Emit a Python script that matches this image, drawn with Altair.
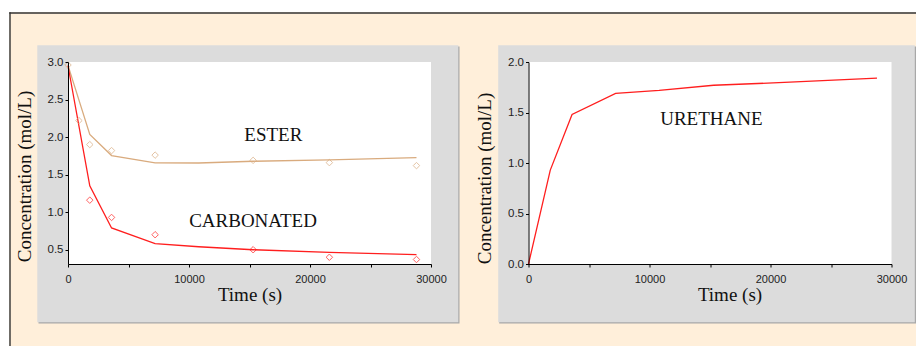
import altair as alt
import pandas as pd

# ---------------- data ----------------
time_fit = [0, 1800, 3600, 7200, 10800, 15300, 21600, 28800]
ester_fit = [2.955, 2.035, 1.754, 1.657, 1.655, 1.678, 1.696, 1.727]
carb_fit = [2.95, 1.35, 0.79, 0.58, 0.54, 0.50, 0.465, 0.435]
ureth_fit = [0.0, 0.93, 1.48, 1.69, 1.72, 1.77, 1.80, 1.84]

ester_t = [0, 900, 1800, 3600, 7200, 15300, 21600, 28800]
ester_obs = [2.96, 2.22, 1.90, 1.82, 1.76, 1.69, 1.66, 1.62]
carb_t = [1800, 3600, 7200, 15300, 21600, 28800]
carb_obs = [1.16, 0.93, 0.70, 0.50, 0.40, 0.37]

left_labels = ["ESTER", "CARBONATED"]
left_label_t = [16967, 15289]
left_label_v = [1.945, 0.797]
right_labels = ["URETHANE"]
right_label_t = [15112]
right_label_v = [1.381]

x_ticks = [0, 5000, 10000, 15000, 20000, 25000, 30000]
left_y_ticks = [0.5, 0.75, 1.0, 1.25, 1.5, 1.75, 2.0, 2.25, 2.5, 2.75, 3.0]
right_y_ticks = [0.0, 0.25, 0.5, 0.75, 1.0, 1.25, 1.5, 1.75, 2.0]

# ---------------- styling ----------------
W, H = 363, 202
SPACING = 97.5
BEIGE = "#FFEFDA"
PANEL = "#DCDCDC"
SHADOW = "#A8A8A8"
TAN = "#D9AB7E"
RED = "#FF1E1E"
SERIF = "Liberation Serif"
SANS = "Liberation Sans"

one = pd.DataFrame({"k": [0]})


def box(x, x2, y, y2, **kw):
    return alt.Chart(one).mark_rect(**kw).encode(
        x=alt.value(x), x2=alt.value(x2), y=alt.value(y), y2=alt.value(y2)
    )


def x_axis(title_x=None):
    kw = dict(
        title="Time (s)",
        values=x_ticks,
        format="d",
        labelExpr="datum.value % 10000 == 0 ? datum.label : ''",
        grid=False,
        domainColor="#000",
        tickColor="#000",
        tickSize=3,
        labelPadding=6,
        labelFont=SANS,
        labelFontSize=11,
        labelColor="#222",
        labelFlush=False,
        labelOverlap=False,
        titleFont=SERIF,
        titleFontSize=19,
        titleFontWeight="normal",
        titleColor="#111",
        titlePadding=1,
        zindex=1,
    )
    if title_x is not None:
        kw["titleX"] = title_x
    return alt.Axis(**kw)


def y_axis(values, title_y):
    return alt.Axis(
        title="Concentration (mol/L)",
        values=values,
        format=".1f",
        labelExpr="datum.value % 0.5 == 0 ? datum.label : ''",
        grid=False,
        domainColor="#000",
        tickColor="#000",
        tickSize=3,
        labelPadding=2,
        labelFont=SANS,
        labelFontSize=11.5,
        labelColor="#222",
        labelFlush=False,
        labelOverlap=False,
        titleFont=SERIF,
        titleFontSize=19,
        titleFontWeight="normal",
        titleColor="#111",
        titlePadding=13,
        titleY=title_y,
        zindex=1,
    )


x_scale = alt.Scale(domain=[0, 30000], nice=False, zero=False)
left_y_scale = alt.Scale(domain=[0.31, 3.0], nice=False, zero=False)
right_y_scale = alt.Scale(domain=[0.0, 2.0], nice=False, zero=False)

fit_df = pd.DataFrame({"t": time_fit, "ester": ester_fit, "carb": carb_fit, "ureth": ureth_fit})
ester_df = pd.DataFrame({"t": ester_t, "v": ester_obs})
carb_df = pd.DataFrame({"t": carb_t, "v": carb_obs})
left_lab_df = pd.DataFrame({"t": left_label_t, "v": left_label_v, "label": left_labels})
right_lab_df = pd.DataFrame({"t": right_label_t, "v": right_label_v, "label": right_labels})

# outer beige frame (dark line on the left and top only)
RIGHT_END = 848.0
BOTTOM_END = 284.0
frame = [
    box(-58.7, RIGHT_END, -49.7, BOTTOM_END, color=BEIGE),
    box(-58.7, -57.3, -49.7, BOTTOM_END, color="#333333"),
    box(-58.7, RIGHT_END, -49.7, -48.3, color="#333333"),
]

# ---------------- left panel ----------------
left_bg = [
    box(-29.5, 391.5, -15.5, 261.5, color=SHADOW),
    box(-30.7, 390.3, -16.7, 260.3, color=PANEL),
    box(0, W, 0, H, color="white"),
]

ester_line = alt.Chart(fit_df).mark_line(color=TAN, strokeWidth=1.3).encode(
    x=alt.X("t:Q", scale=x_scale, axis=x_axis()),
    y=alt.Y("ester:Q", scale=left_y_scale, axis=y_axis(left_y_ticks, 114)),
)
carb_line = alt.Chart(fit_df).mark_line(color=RED, strokeWidth=1.3).encode(
    x="t:Q", y="carb:Q"
)
ester_pts = alt.Chart(ester_df).mark_point(
    shape="diamond", filled=False, color=TAN, size=42, strokeWidth=1
).encode(x="t:Q", y="v:Q")
carb_pts = alt.Chart(carb_df).mark_point(
    shape="diamond", filled=False, color=RED, size=42, strokeWidth=1
).encode(x="t:Q", y="v:Q")
left_text = alt.Chart(left_lab_df).mark_text(
    font=SERIF, fontSize=19, color="#111", align="center", baseline="alphabetic"
).encode(x="t:Q", y="v:Q", text="label:N")

left = alt.layer(
    *frame, *left_bg, ester_line, carb_line, ester_pts, carb_pts, left_text
).properties(width=W, height=H)

# ---------------- right panel ----------------
r_end = RIGHT_END - (W + SPACING)
right_bg = [
    box(-29.3, r_end, -15.5, 261.5, color=SHADOW),
    box(-30.3, r_end - 1.2, -16.7, 260.3, color=PANEL),
    box(0, W, 0, H, color="white"),
]
ureth_line = alt.Chart(fit_df).mark_line(color=RED, strokeWidth=1.3).encode(
    x=alt.X("t:Q", scale=x_scale, axis=x_axis(title_x=201)),
    y=alt.Y("ureth:Q", scale=right_y_scale, axis=y_axis(right_y_ticks, 116)),
)
right_text = alt.Chart(right_lab_df).mark_text(
    font=SERIF, fontSize=19, color="#111", align="center", baseline="alphabetic"
).encode(x="t:Q", y="v:Q", text="label:N")

right = alt.layer(*right_bg, ureth_line, right_text).properties(width=W, height=H)

chart = (
    alt.hconcat(left, right, spacing=SPACING, bounds="flush")
    .properties(padding={"left": 1, "top": 4, "right": 0, "bottom": 0}, background="white")
    .configure_view(strokeWidth=0)
)

chart.save("out.html", embed_options={"renderer": "svg", "actions": False})
